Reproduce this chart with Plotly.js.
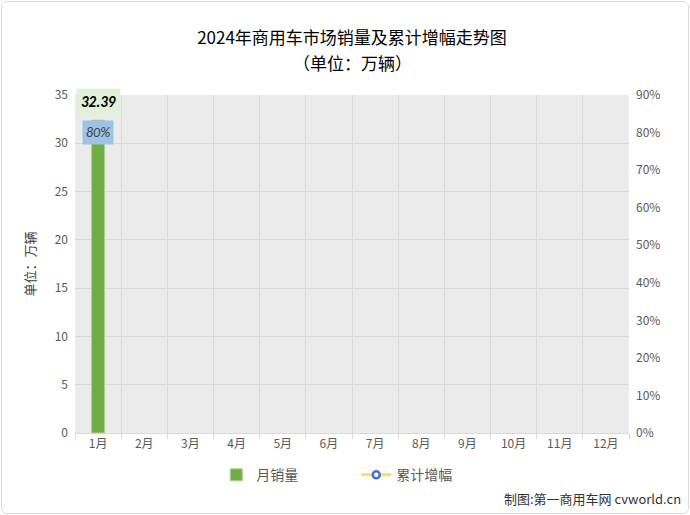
<!DOCTYPE html>
<html>
<head>
<meta charset="utf-8">
<script src="https://cdn.plot.ly/plotly-3.0.1.min.js"></script>
<style>
  body { margin: 0; background: #fff; }
  #chart { position: absolute; left: 1px; top: 1px; width: 686px; height: 511px;
           border: 1px solid #d9d9d9; border-radius: 6px; overflow: hidden; }
</style>
</head>
<body>
<div id="chart"></div>
<script>
var months = ['1月','2月','3月','4月','5月','6月','7月','8月','9月','10月','11月','12月'];
var sales = [32.39, null, null, null, null, null, null, null, null, null, null, null];
var growth = [0.80, null, null, null, null, null, null, null, null, null, null, null];

var cjk = '"Noto Sans CJK SC", "Microsoft YaHei", sans-serif';

var bars = {
  x: months,
  y: sales,
  type: 'bar',
  name: '月销量',
  width: 0.28,
  marker: { color: '#70ad47', line: { color: '#a9d18e', width: 1 } },
  hoverinfo: 'x+y'
};

var line = {
  x: months,
  y: growth,
  yaxis: 'y2',
  type: 'scatter',
  mode: 'lines+markers',
  name: '累计增幅',
  line: { color: '#ffd966', width: 3 },
  marker: { color: '#ffffff', size: 7, line: { color: '#4472c4', width: 2.5 } }
};

// labels follow the data
var notes = [];
sales.forEach(function(v, i) {
  if (v == null) return;
  notes.push({
    x: months[i], y: v, xref: 'x', yref: 'y',
    text: v.toFixed(2), showarrow: false, yanchor: 'bottom', yshift: 4,
    font: { family: 'Calibri, "Liberation Sans", sans-serif', size: 15, color: '#000', weight: 'bold', style: 'italic' },
    bgcolor: '#e2efda', borderpad: 4
  });
});
growth.forEach(function(v, i) {
  if (v == null) return;
  notes.push({
    x: months[i], y: v, xref: 'x', yref: 'y2',
    text: Math.round(v * 100) + '%', showarrow: false,
    font: { family: 'Calibri, "Liberation Sans", sans-serif', size: 14, color: '#404040', style: 'italic' },
    bgcolor: '#9dc3e6', borderpad: 3
  });
});

notes.push({
  xref: 'paper', yref: 'paper', x: 0.5, y: 1.0, yshift: 33, xanchor: 'center', yanchor: 'middle',
  text: '（单位：万辆）', showarrow: false,
  font: { family: cjk, size: 17, color: '#000' }
});

notes.push({
  xref: 'paper', yref: 'paper', x: 1.097, y: -0.195, xanchor: 'right', yanchor: 'middle',
  text: '制图:第一商用车网 cvworld.cn', showarrow: false,
  font: { family: cjk, size: 13, color: '#333' }
});

var layout = {
  width: 688, height: 513,
  margin: { l: 73, r: 61, t: 93, b: 82 },
  paper_bgcolor: '#ffffff',
  plot_bgcolor: '#ebebeb',
  font: { family: cjk, color: '#595959', size: 12 },
  title: {
    text: '2024年商用车市场销量及累计增幅走势图',
    font: { family: cjk, size: 17, color: '#000' },
    x: 0.5, xanchor: 'center', xref: 'paper', yref: 'container', yanchor: 'middle'
  },
  xaxis: {
    type: 'category',
    range: [-0.5, months.length - 0.5],
    tickson: 'boundaries',
    showgrid: true, gridcolor: '#d9d9d9',
    ticks: 'outside', ticklen: 5, tickcolor: '#d9d9d9',
    showline: true, linecolor: '#d9d9d9',
    tickfont: { size: 12, color: '#595959' },
    automargin: false
  },
  yaxis: {
    range: [0, 35], dtick: 5,
    showgrid: true, gridcolor: '#d9d9d9', zeroline: false,
    tickfont: { size: 12, color: '#595959' },
    ticklabelstandoff: 6,
    automargin: false,
    title: { text: '单位：万辆', font: { size: 13, color: '#404040' }, standoff: 16 }
  },
  yaxis2: {
    overlaying: 'y', side: 'right',
    range: [0, 0.9], dtick: 0.1, tickformat: '.0%',
    showgrid: false, zeroline: false,
    tickfont: { size: 12, color: '#595959' },
    ticklabelstandoff: 6,
    automargin: false
  },
  showlegend: true,
  legend: {
    orientation: 'h', x: 0.255, xanchor: 'left', y: -0.125, yanchor: 'middle',
    font: { size: 14, color: '#595959' }, itemwidth: 30,
    entrywidth: 95
  },
  bargap: 0.7,
  annotations: notes
};

// container-ref title y in pixels → fraction
layout.title.y = 1 - 36 / 513;

Plotly.newPlot('chart', [bars, line], layout, { displayModeBar: false, staticPlot: true });
</script>
</body>
</html>
